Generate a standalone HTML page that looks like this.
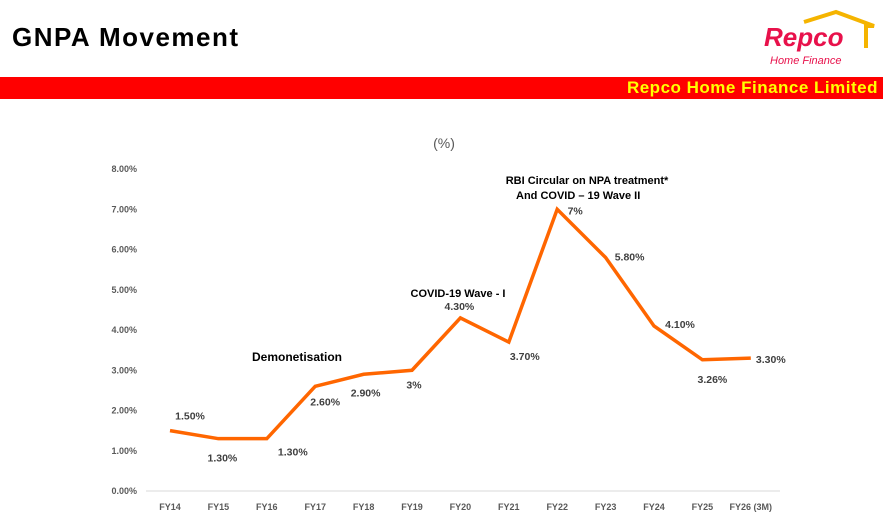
<!DOCTYPE html>
<html><head><meta charset="utf-8"><style>
body{margin:0;width:883px;height:527px;background:#fff;overflow:hidden;font-family:"Liberation Sans",sans-serif;position:relative}
.t{position:absolute}
</style></head><body>
<div class="t" style="left:12px;top:22px;font-size:26px;font-weight:bold;color:#000;letter-spacing:1.5px">GNPA Movement</div>
<div class="t" style="left:764px;top:8px;width:115px;height:60px">
<svg width="115" height="60"><polyline points="40,14 72,4 110,18 102,18 102,40" fill="none" stroke="#f5b400" stroke-width="4"/>
<text x="0" y="38" font-family="Liberation Sans" font-weight="bold" font-style="italic" font-size="26" fill="#e8114b">Repco</text>
<text x="6" y="56" font-family="Liberation Sans" font-style="italic" font-size="11" fill="#e8114b">Home Finance</text></svg></div>
<div class="t" style="left:0;top:77px;width:883px;height:22px;background:#ff0000"></div>
<div class="t" style="right:5px;top:78px;font-size:17px;font-weight:bold;color:#ffff00;letter-spacing:0.5px">Repco Home Finance Limited</div>
<svg id="c" class="t" style="left:0;top:0" width="883" height="527"></svg>
<script>
const categories=["FY14","FY15","FY16","FY17","FY18","FY19","FY20","FY21","FY22","FY23","FY24","FY25","FY26 (3M)"];
const values=[1.5,1.3,1.3,2.6,2.9,3.0,4.3,3.7,7.0,5.8,4.1,3.26,3.3];
const valueLabels=["1.50%","1.30%","1.30%","2.60%","2.90%","3%","4.30%","3.70%","7%","5.80%","4.10%","3.26%","3.30%"];
const yTicks=[0,1,2,3,4,5,6,7,8];
const labelOff=[[20,-15],[4,19],[26,13],[10,15],[2,18],[2,14],[-1,-12],[16,14],[18,1],[24,-1],[26,-2],[10,19],[20,1]];
const svg=document.getElementById('c'),NS="http://www.w3.org/2000/svg";
const x=i=>170+i*48.4, y=v=>491-v*40.25;
function el(t,a,txt){const e=document.createElementNS(NS,t);for(const k in a)e.setAttribute(k,a[k]);if(txt!=null)e.textContent=txt;svg.appendChild(e);return e;}
let e=el('line',{x1:146,x2:780,y1:y(0),y2:y(0),stroke:'#d9d9d9'});

yTicks.forEach(v=>{const t=el('text',{x:137,y:y(v)+3,'text-anchor':'end','font-size':9,'font-weight':'bold',fill:'#595959'},v.toFixed(2)+'%');
});
categories.forEach((c,i)=>{const t=el('text',{x:x(i),y:510,'text-anchor':'middle','font-size':9,'font-weight':'bold',fill:'#595959'},c);
});
const line=el('polyline',{points:values.map((v,i)=>x(i)+','+y(v)).join(' '),fill:'none',stroke:'#ff6600','stroke-width':3.5,'stroke-linejoin':'miter'});

values.forEach((v,i)=>{const t=el('text',{x:x(i)+labelOff[i][0],y:y(v)+labelOff[i][1]+4,'text-anchor':'middle','font-size':10.5,'font-weight':'bold',fill:'#404040'},valueLabels[i]);
});
const ann=[["(%)",444,148,14,'normal','#595959'],["Demonetisation",297,361,12,'bold','#000'],["COVID-19 Wave - I",458,297,11,'bold','#000'],["RBI Circular on NPA treatment*",587,184,11,'bold','#000']];
ann.forEach(a=>{const t=el('text',{x:a[1],y:a[2],'text-anchor':'middle','font-size':a[3],'font-weight':a[4],fill:a[5]},a[0]);
});
const t2=el('text',{x:516,y:199,'font-size':11,'font-weight':'bold',fill:'#000'},"And COVID – 19 Wave II");

</script>
</body></html>
